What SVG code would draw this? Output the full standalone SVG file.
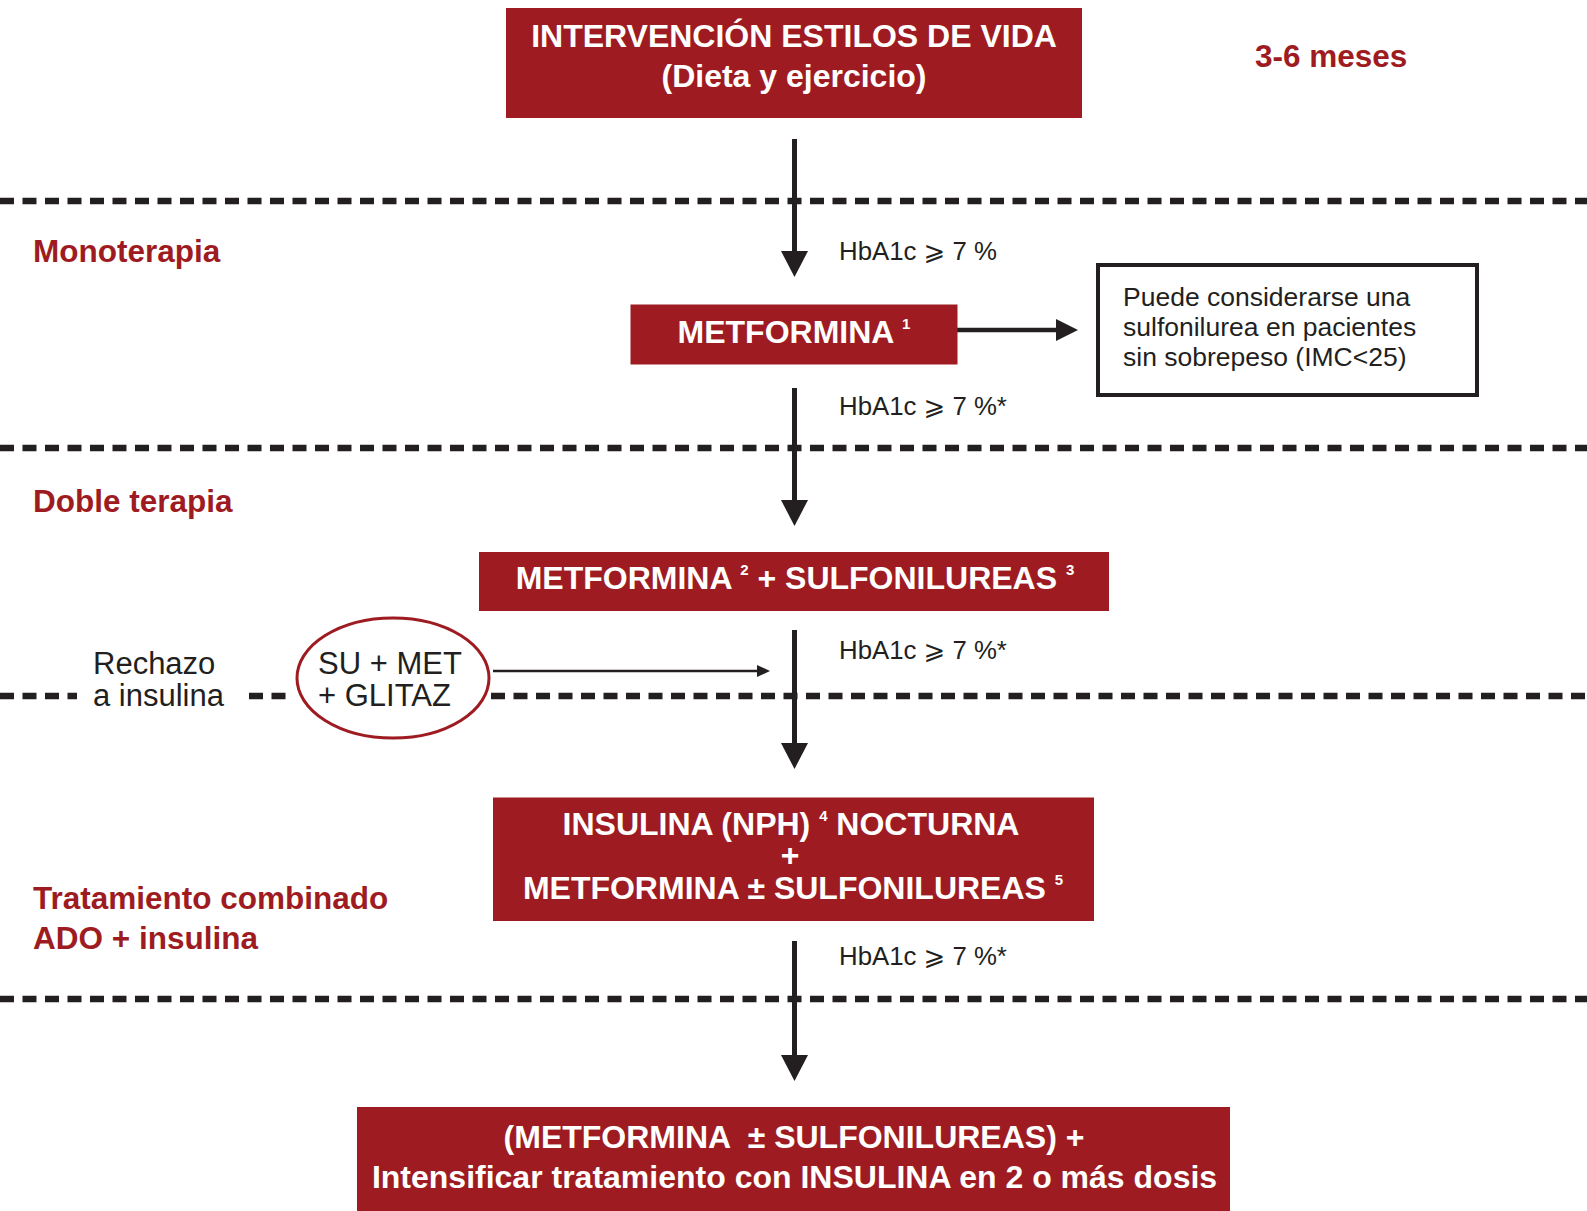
<svg xmlns="http://www.w3.org/2000/svg" width="1587" height="1211" viewBox="0 0 1587 1211">
<defs>
<style>
.box{fill:#9E1C21}
.bt{font-family:"Liberation Sans",Arial,sans-serif;font-weight:bold;font-size:32px;fill:#fff;text-anchor:middle}
.sup{font-size:15px}
.lab{font-family:"Liberation Sans",Arial,sans-serif;font-weight:bold;font-size:31.5px;fill:#9E1C21}
.reg{font-family:"Liberation Sans","DejaVu Sans",Arial,sans-serif;font-size:26.5px;fill:#231F20}
.hb{font-family:"Liberation Sans","DejaVu Sans",Arial,sans-serif;font-size:25.8px;fill:#231F20}
.big{font-family:"Liberation Sans",Arial,sans-serif;font-size:31px;fill:#231F20}
.dash{stroke:#231F20;stroke-width:6.5;stroke-dasharray:14 8.5;fill:none}
.ln{stroke:#231F20;stroke-width:5;fill:none}
.head{fill:#231F20}
</style>
</defs>
<rect width="1587" height="1211" fill="#fff"/>

<g id="separators">
<line class="dash" x1="0" y1="201" x2="1587" y2="201"/>
<line class="dash" x1="0" y1="448" x2="1587" y2="448"/>
<line class="dash" x1="0" y1="696" x2="77" y2="696"/>
<line class="dash" x1="249" y1="696" x2="289" y2="696"/>
<line class="dash" x1="491" y1="696" x2="1587" y2="696"/>
<line class="dash" x1="0" y1="999" x2="1587" y2="999"/>
</g>

<g id="connectors">
<line class="ln" x1="794.5" y1="139" x2="794.5" y2="254"/>
<polygon class="head" points="781,251 808,251 794.5,277"/>
<line class="ln" x1="794.5" y1="388" x2="794.5" y2="502"/>
<polygon class="head" points="781,500 808,500 794.5,526"/>
<line class="ln" x1="794.5" y1="630" x2="794.5" y2="746"/>
<polygon class="head" points="781,743 808,743 794.5,769"/>
<line class="ln" x1="794.5" y1="941" x2="794.5" y2="1058"/>
<polygon class="head" points="781,1055 808,1055 794.5,1081"/>
<line class="ln" x1="957" y1="330" x2="1060" y2="330" style="stroke-width:4.5"/>
<polygon class="head" points="1056,319 1056,341 1078,330"/>
<line class="ln" x1="493" y1="671" x2="760" y2="671" style="stroke-width:2.5"/>
<polygon class="head" points="757,665 757,677 770,671"/>
</g>

<g id="lifestyle">
<rect class="box" x="506" y="8" width="576" height="110"/>
<text class="bt" x="794" y="46.5">INTERVENCIÓN ESTILOS DE VIDA</text>
<text class="bt" x="794" y="87">(Dieta y ejercicio)</text>
</g>

<g id="time-label"><text class="lab" x="1255" y="67">3-6 meses</text></g>
<g id="label-mono"><text class="lab" x="33" y="262">Monoterapia</text></g>
<g id="label-doble"><text class="lab" x="33" y="512">Doble terapia</text></g>
<g id="label-comb">
<text class="lab" x="33" y="909">Tratamiento combinado</text>
<text class="lab" x="33" y="949">ADO + insulina</text>
</g>

<g id="hba1c-labels">
<text class="hb" x="839" y="260">HbA1c ⩾ 7 %</text>
<text class="hb" x="839" y="415">HbA1c ⩾ 7 %*</text>
<text class="hb" x="839" y="659">HbA1c ⩾ 7 %*</text>
<text class="hb" x="839" y="965">HbA1c ⩾ 7 %*</text>
</g>

<g id="metformina">
<rect class="box" x="630.5" y="304.5" width="327" height="60"/>
<text class="bt" x="794" y="343">METFORMINA <tspan class="sup" dy="-14">1</tspan></text>
</g>

<g id="note">
<rect x="1098" y="265" width="379" height="130" fill="#fff" stroke="#231F20" stroke-width="4"/>
<text class="reg" x="1123" y="306">Puede considerarse una</text>
<text class="reg" x="1123" y="336">sulfonilurea en pacientes</text>
<text class="reg" x="1123" y="366">sin sobrepeso (IMC&lt;25)</text>
</g>

<g id="doble">
<rect class="box" x="479" y="552" width="630" height="59"/>
<text class="bt" x="795" y="589">METFORMINA <tspan class="sup" dy="-14">2</tspan><tspan dy="14"> + SULFONILUREAS </tspan><tspan class="sup" dy="-14">3</tspan></text>
</g>

<g id="rechazo">
<text class="big" x="93" y="674">Rechazo</text>
<text class="big" x="93" y="706">a insulina</text>
</g>

<g id="su-met-glitaz">
<ellipse cx="393" cy="678" rx="96" ry="60" fill="#fff" stroke="#9E1C21" stroke-width="3"/>
<text class="big" x="318" y="674">SU + MET</text>
<text class="big" x="318" y="706">+ GLITAZ</text>
</g>

<g id="insulina">
<rect class="box" x="493" y="797.5" width="601" height="123.5"/>
<text class="bt" x="791" y="835">INSULINA (NPH) <tspan class="sup" dy="-14">4</tspan><tspan dy="14"> NOCTURNA</tspan></text>
<text class="bt" x="790" y="866">+</text>
<text class="bt" x="793" y="899">METFORMINA ± SULFONILUREAS <tspan class="sup" dy="-14">5</tspan></text>
</g>

<g id="intensificar">
<rect class="box" x="357" y="1107" width="873" height="110"/>
<text class="bt" x="794" y="1148" style="white-space:pre">(METFORMINA  ± SULFONILUREAS) +</text>
<text class="bt" x="794.5" y="1188">Intensificar tratamiento con INSULINA en 2 o más dosis</text>
</g>
</svg>
